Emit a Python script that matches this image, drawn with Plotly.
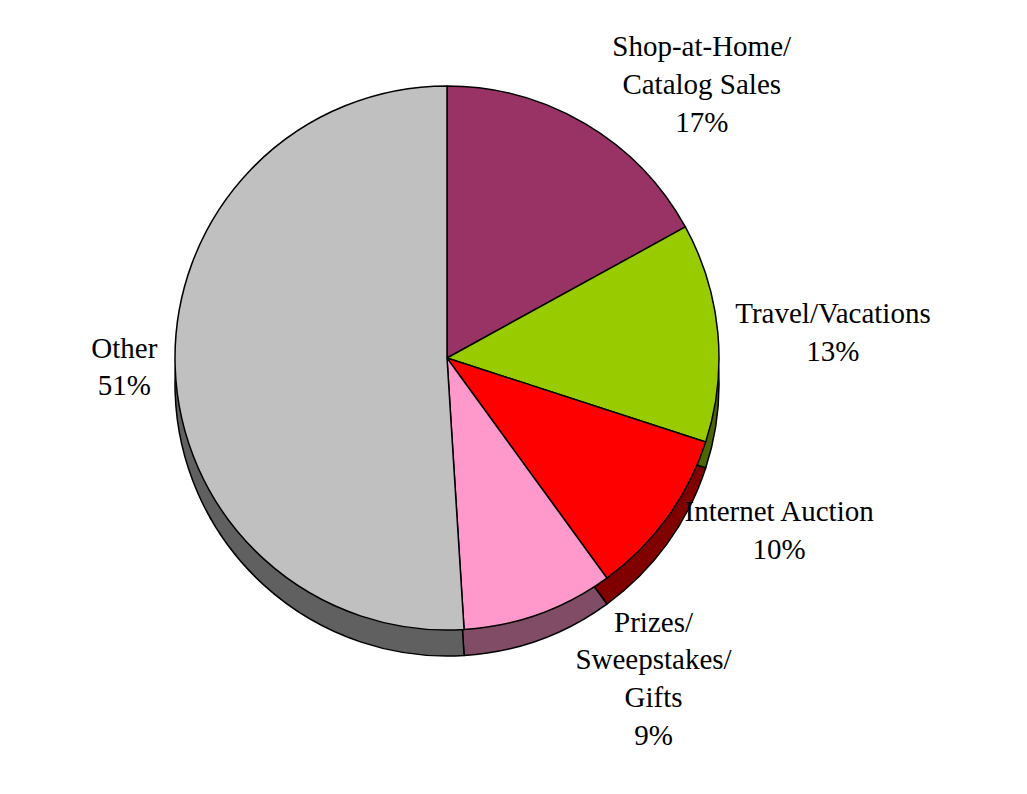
import plotly.graph_objects as go

# fraud complaint categories, clockwise from 12 o'clock
categories = ["Shop-at-Home/<br>Catalog Sales", "Travel/Vacations", "Internet Auction",
              "Prizes/<br>Sweepstakes/<br>Gifts", "Other"]
shares = [17, 13, 10, 9, 51]
top_colors = ["#993366", "#99CC00", "#FF0000", "#FF99CC", "#C0C0C0"]
side_colors = ["#4D1A33", "#4C6600", "#800000", "#804C66", "#606060"]

W, H = 1027, 794
cx, cy, r, depth = 439, 444, 272, 26

fig = go.Figure()
# darker copy underneath gives the pie a bit of thickness
fig.add_trace(go.Pie(
    labels=categories, values=shares, sort=False, direction="clockwise", rotation=0,
    marker=dict(colors=side_colors, line=dict(color="black", width=1.5)),
    textinfo="none", hoverinfo="skip", showlegend=False,
    domain=dict(x=[(cx - r) / W, (cx + r) / W], y=[(cy - depth - r) / H, (cy - depth + r) / H]),
))
fig.add_trace(go.Pie(
    labels=categories, values=shares, sort=False, direction="clockwise", rotation=0,
    marker=dict(colors=top_colors, line=dict(color="black", width=1.5)),
    texttemplate="%{label}<br>%{percent:.0%}", textposition="outside",
    outsidetextfont=dict(family="Liberation Serif", size=29, color="black"),
    showlegend=False,
    domain=dict(x=[(cx - r) / W, (cx + r) / W], y=[(cy - r) / H, (cy + r) / H]),
))
fig.update_layout(width=W, height=H, margin=dict(l=0, r=0, t=0, b=0),
                  paper_bgcolor="white", plot_bgcolor="white",
                  font=dict(family="Liberation Serif", size=29, color="black"))
fig.write_html("out.html")
